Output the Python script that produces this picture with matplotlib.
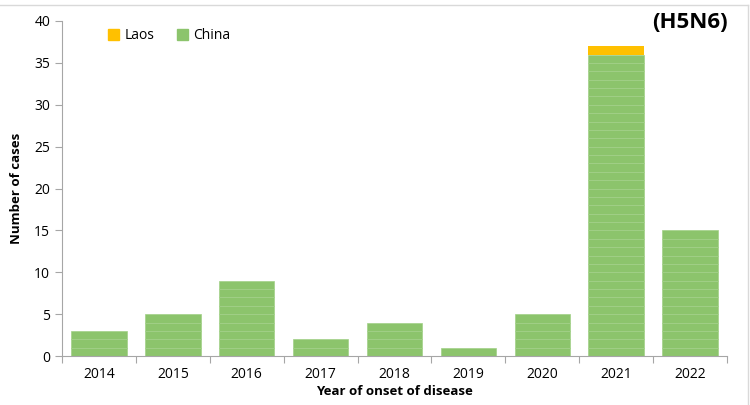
import numpy as np
import matplotlib
matplotlib.use("Agg")
import matplotlib.pyplot as plt
from matplotlib.patches import Patch

plt.rcParams['font.family'] = ['Open Sans', 'DejaVu Sans']

# -----------------------------
# Data
# -----------------------------
years = ["2014", "2015", "2016", "2017", "2018", "2019", "2020", "2021", "2022"]
china = [3, 5, 9, 2, 4, 1, 5, 36, 15]
laos = [0, 0, 0, 0, 0, 0, 0, 1, 0]

green = "#8cc46c"
yellow = "#ffc000"
grey = "#a6a6a6"

fig = plt.figure(figsize=(7.5, 4.05), dpi=100)
ax = fig.add_axes([62/750, 1 - 356/405, (727-62)/750, (356-21)/405])

x = np.arange(len(years))
width = 0.75

# one segment per case, so the faint separator lines show
for i, n in enumerate(china):
    ax.bar(np.full(n, x[i]), np.ones(n), width, bottom=np.arange(n),
           color=green, edgecolor="#a2d088", linewidth=0.5)
ax.bar(x, laos, width, bottom=china, color=yellow, linewidth=0)

ax.set_xlim(-0.5, len(years) - 0.5)
ax.set_ylim(0, 40)
ax.set_yticks(range(0, 41, 5))

ax.set_xticks(np.arange(-0.5, len(years)), minor=False)
ax.set_xticklabels([])
ax.set_xticks(x, minor=True)
ax.set_xticklabels(years, minor=True)
ax.tick_params(axis="x", which="major", direction="out", length=5, color=grey)
ax.tick_params(axis="x", which="minor", length=0, pad=8, labelsize=10)
ax.tick_params(axis="y", direction="out", length=5, color=grey, labelsize=10)

for s in ["top", "right"]:
    ax.spines[s].set_visible(False)
for s in ["left", "bottom"]:
    ax.spines[s].set_color(grey)

ax.set_xlabel("Year of onset of disease", fontsize=9.5, fontweight="bold", labelpad=2)
ax.set_ylabel("Number of cases", fontsize=9.5, fontweight="bold", labelpad=8)

handles = [Patch(color=yellow, label="Laos"), Patch(color=green, label="China")]
ax.legend(handles=handles, loc="upper left", bbox_to_anchor=(0.05, 1.015), ncol=2,
          frameon=False, fontsize=10, handlelength=0.8, handleheight=0.8,
          handletextpad=0.4, columnspacing=1.6)

fig.text(728/750, 1 - 22/405, "(H5N6)", ha="right", va="center",
         fontsize=16, fontweight="bold")

# light frame lines at top and right
fig.add_artist(plt.Line2D([0, 748/750], [1 - 5/405, 1 - 5/405], color="#d9d9d9", lw=1))
fig.add_artist(plt.Line2D([748/750, 748/750], [0, 1 - 5/405], color="#d9d9d9", lw=1))

fig.savefig("out.png", dpi=100)
